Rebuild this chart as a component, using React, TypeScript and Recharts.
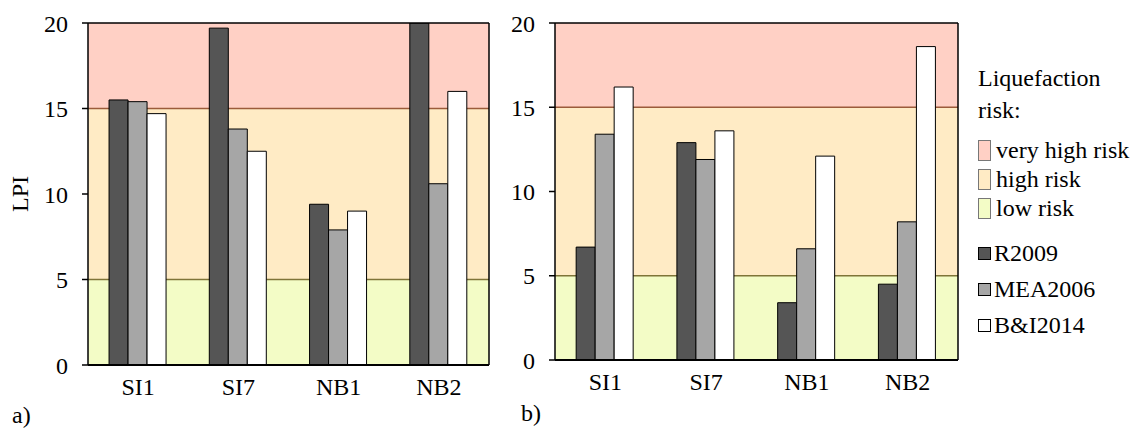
import React from 'react';
import { BarChart, Bar, XAxis, YAxis, ReferenceArea, ReferenceLine } from 'recharts';

const sites = ['SI1', 'SI7', 'NB1', 'NB2'];
const r2009A = [15.5, 19.7, 9.4, 20];
const mea2006A = [15.4, 13.8, 7.9, 10.6];
const bi2014A = [14.7, 12.5, 9.0, 16.0];
const r2009B = [6.7, 12.9, 3.4, 4.5];
const mea2006B = [13.4, 11.9, 6.6, 8.2];
const bi2014B = [16.2, 13.6, 12.1, 18.6];
const yTicks = [0, 5, 10, 15, 20];

const seriesKeys = ['r2009', 'mea2006', 'bi2014'];
const seriesNames = ['R2009', 'MEA2006', 'B&I2014'];
const seriesColors = ['#555555', '#A6A6A6', '#FFFFFF'];

const zoneNames = ['very high risk', 'high risk', 'low risk'];
const zoneLower = [15, 5, 0];
const zoneUpper = [20, 15, 5];
const zoneColors = ['#FFD0C5', '#FFEBC5', '#F3FCC6'];
const boundaryValues = [15, 5];
const boundaryColors = ['#9C5B3B', '#7F7438'];

const FONT = 'Liberation Serif, Tinos, Times New Roman, Times, DejaVu Serif, serif';
const FS = 24;

const buildData = (a: number[], b: number[], c: number[]) =>
  sites.map((s, i) => ({ site: s, r2009: a[i], mea2006: b[i], bi2014: c[i] }));

type PanelProps = {
  data: any[];
  width: number;
  height: number;
  margin: { top: number; right: number; bottom: number; left: number };
  yWidth: number;
  showLabel: boolean;
};

const Panel = ({ data, width, height, margin, yWidth, showLabel }: PanelProps) => (
  <BarChart
    width={width}
    height={height}
    data={data}
    margin={margin}
    barGap={0}
    barCategoryGap="21%"
    style={{ fontFamily: FONT }}
  >
    {zoneNames.map((z, i) => (
      <ReferenceArea
        key={z}
        y1={zoneLower[i]}
        y2={zoneUpper[i]}
        fill={zoneColors[i]}
        fillOpacity={1}
        stroke="none"
      />
    ))}
    {boundaryValues.map((v, i) => (
      <ReferenceArea
        key={'b' + v}
        y1={v - 0.04}
        y2={v + 0.04}
        fill={boundaryColors[i]}
        fillOpacity={1}
        stroke="none"
      />
    ))}
    <ReferenceLine y={20} stroke="#000" strokeWidth={1.5} />
    <XAxis
      dataKey="site"
      height={40}
      tickLine={false}
      tickSize={0}
      tickMargin={13}
      axisLine={{ stroke: '#000', strokeWidth: 2 }}
      tick={{ fill: '#000', fontSize: FS, fontFamily: FONT }}
    />
    <YAxis
      domain={[0, 20]}
      ticks={yTicks}
      width={yWidth}
      allowDataOverflow
      tickSize={6}
      tickMargin={14}
      tickLine={{ stroke: '#000', strokeWidth: 1.5 }}
      axisLine={{ stroke: '#000', strokeWidth: 1.5 }}
      tick={{ fill: '#000', fontSize: FS, fontFamily: FONT }}
      label={
        showLabel
          ? (props: any) => {
              const vb = props.viewBox;
              const cx = vb.x + 20;
              const cy = vb.y + vb.height / 2;
              return (
                <text
                  x={cx}
                  y={cy}
                  transform={`rotate(-90, ${cx}, ${cy})`}
                  textAnchor="middle"
                  dominantBaseline="central"
                  fontSize={FS}
                  fontFamily={FONT}
                  fill="#000"
                >
                  LPI
                </text>
              );
            }
          : undefined
      }
    />
    <YAxis
      yAxisId="right"
      orientation="right"
      domain={[0, 20]}
      width={1}
      tick={false}
      tickLine={false}
      axisLine={{ stroke: '#000', strokeWidth: 1.5 }}
    />
    {seriesKeys.map((k, i) => (
      <Bar
        key={k}
        dataKey={k}
        name={seriesNames[i]}
        fill={seriesColors[i]}
        stroke="#000"
        strokeWidth={1}
        isAnimationActive={false}
      />
    ))}
  </BarChart>
);

export default function App() {
  const dataA = buildData(r2009A, mea2006A, bi2014A);
  const dataB = buildData(r2009B, mea2006B, bi2014B);
  const textStyle: React.CSSProperties = {
    position: 'absolute',
    fontFamily: FONT,
    fontSize: FS,
    color: '#000',
    lineHeight: 1,
    whiteSpace: 'nowrap',
  };
  const zoneY = [150, 179, 208];
  const seriesY = [253, 289, 325];
  return (
    <div
      style={{
        position: 'absolute',
        left: 0,
        top: 0,
        width: 1140,
        height: 429,
        background: '#fff',
        overflow: 'hidden',
        fontFamily: FONT,
      }}
    >
      <div style={{ position: 'absolute', left: 0, top: 0 }}>
        <Panel
          data={dataA}
          width={500}
          height={429}
          margin={{ top: 23, right: 10, bottom: 24, left: 0 }}
          yWidth={88}
          showLabel={true}
        />
      </div>
      <div style={{ position: 'absolute', left: 500, top: 0 }}>
        <Panel
          data={dataB}
          width={470}
          height={429}
          margin={{ top: 23, right: 11, bottom: 29, left: 0 }}
          yWidth={55}
          showLabel={false}
        />
      </div>
      <div style={{ ...textStyle, left: 12, top: 403 }}>a)</div>
      <div style={{ ...textStyle, left: 521, top: 401 }}>b)</div>

      <div style={{ ...textStyle, left: 978, top: 66 }}>Liquefaction</div>
      <div style={{ ...textStyle, left: 978, top: 98 }}>risk:</div>
      {zoneNames.map((z, i) => (
        <div
          key={z}
          style={{
            position: 'absolute',
            left: 978,
            top: zoneY[i] - 11,
            display: 'flex',
            alignItems: 'center',
            height: 22,
          }}
        >
          <div
            style={{
              width: 11,
              height: 19,
              background: zoneColors[i],
              border: '1px solid #777',
              marginRight: 5,
            }}
          />
          <span style={{ fontFamily: FONT, fontSize: FS, lineHeight: 1, whiteSpace: 'nowrap' }}>{z}</span>
        </div>
      ))}
      {seriesNames.map((s, i) => (
        <div
          key={s}
          style={{
            position: 'absolute',
            left: 978,
            top: seriesY[i] - 11,
            display: 'flex',
            alignItems: 'center',
            height: 22,
          }}
        >
          <div
            style={{
              width: 11,
              height: 11,
              background: seriesColors[i],
              border: '1px solid #000',
              marginRight: 3,
            }}
          />
          <span style={{ fontFamily: FONT, fontSize: FS, lineHeight: 1, whiteSpace: 'nowrap' }}>{s}</span>
        </div>
      ))}
    </div>
  );
}
